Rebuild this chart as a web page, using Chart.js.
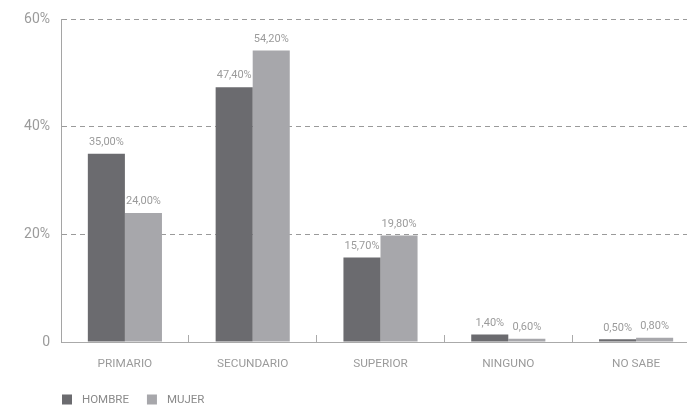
<!DOCTYPE html>
<html>
<head>
<meta charset="utf-8">
<script src="https://cdn.jsdelivr.net/npm/chart.js@4/dist/chart.umd.min.js"></script>
<style>
  html, body { margin: 0; padding: 0; background: #fff; overflow: hidden; }
  #wrap { width: 701px; height: 406px; }
</style>
</head>
<body>
<div id="wrap"><canvas id="myChart"></canvas></div>
<script>
var labels = ['PRIMARIO', 'SECUNDARIO', 'SUPERIOR', 'NINGUNO', 'NO SABE'];
var hombreData = [35.0, 47.4, 15.7, 1.4, 0.5];
var mujerData = [24.0, 54.2, 19.8, 0.6, 0.8];
var yTicks = [0, 20, 40, 60];

var textGray = '#9b9b9b';

// value labels above each bar
const valueLabels = {
    id: 'valueLabels',
    afterDatasetsDraw(chart) {
        const ctx = chart.ctx;
        ctx.save();
        ctx.font = '11px Roboto';
        ctx.fillStyle = textGray;
        ctx.textAlign = 'center';
        ctx.textBaseline = 'bottom';
        chart.data.datasets.forEach((ds, i) => {
            chart.getDatasetMeta(i).data.forEach((bar, j) => {
                var txt = ds.data[j].toFixed(2).replace('.', ',') + '%';
                ctx.fillText(txt, bar.x, bar.y - 6);
            });
        });
        ctx.restore();
    }
};

// legend in the bottom-left corner, lined up with the y axis
const cornerLegend = {
    id: 'cornerLegend',
    afterDraw(chart) {
        const ctx = chart.ctx;
        var x = chart.chartArea.left + 1;
        var y = 394.5;
        ctx.save();
        ctx.font = '11.5px Roboto';
        ctx.textBaseline = 'middle';
        chart.data.datasets.forEach(ds => {
            ctx.fillStyle = ds.backgroundColor;
            ctx.fillRect(x, y, 10, 10);
            ctx.fillStyle = '#8a8a8a';
            ctx.fillText(ds.label, x + 20, y + 5.5);
            x += 20 + ctx.measureText(ds.label).width + 18;
        });
        ctx.restore();
    }
};

const data = {
    labels: labels,
    datasets: [
        {
            label: 'HOMBRE',
            backgroundColor: 'rgb(107, 107, 111)',
            data: hombreData,
        },
        {
            label: 'MUJER',
            backgroundColor: 'rgb(167, 167, 171)',
            data: mujerData,
        },
    ],
};

const config = {
    type: 'bar',
    data: data,
    options: {
        responsive: true,
        maintainAspectRatio: false,
        animation: false,
        datasets: {
            bar: { categoryPercentage: 0.58, barPercentage: 1.0 }
        },
        layout: { padding: { top: 19, right: 1, bottom: 34, left: 0 } },
        plugins: {
            legend: { display: false },
            tooltip: { enabled: false }
        },
        scales: {
            x: {
                grid: {
                    display: true,
                    drawOnChartArea: false,
                    drawTicks: true,
                    tickLength: -7,
                    color: '#aaaaaa'
                },
                border: { display: true, color: '#aaaaaa', width: 1 },
                ticks: {
                    padding: 22,
                    color: textGray,
                    font: { family: 'Roboto', size: 11.8 }
                },
                afterFit(scale) { scale.height = 30; }
            },
            y: {
                min: 0,
                max: 60,
                afterBuildTicks(scale) {
                    scale.ticks = yTicks.map(v => ({ value: v }));
                },
                grid: {
                    color: '#9a9a9a',
                    drawTicks: false
                },
                border: { display: true, color: '#a5a5a5', width: 1, dash: [5, 4] },
                ticks: {
                    padding: 11,
                    color: textGray,
                    font: { family: 'Roboto', size: 14 },
                    callback: v => v === 0 ? '0' : v + '%'
                },
                afterFit(scale) { scale.width = 61; }
            }
        }
    },
    plugins: [valueLabels, cornerLegend]
};

const myChart = new Chart(document.getElementById('myChart'), config);
</script>
</body>
</html>
